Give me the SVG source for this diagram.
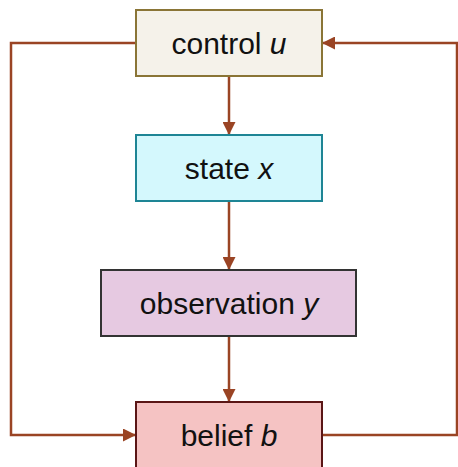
<svg xmlns="http://www.w3.org/2000/svg" width="458" height="467" viewBox="0 0 458 467">
  <style>
    .box { stroke-width: 2; }
    .lbl { font-family: "Liberation Sans", Arial, sans-serif; font-size: 30px; fill: #111; text-anchor: middle; }
    .var { font-style: italic; }
    .wire { fill: none; stroke: #9a4424; stroke-width: 2.5; }
  </style>
  <defs>
    <marker id="head" markerWidth="13" markerHeight="13" refX="12" refY="6.5" orient="auto" markerUnits="userSpaceOnUse">
      <path d="M0,0 L13,6.5 L0,13 Z" fill="#9a4424"/>
    </marker>
  </defs>

  <g id="connectors">
    <line class="wire" x1="229" y1="77" x2="229" y2="134" marker-end="url(#head)"/>
    <line class="wire" x1="229" y1="202" x2="229" y2="269" marker-end="url(#head)"/>
    <line class="wire" x1="229" y1="337" x2="229" y2="401" marker-end="url(#head)"/>
    <polyline class="wire" points="136,43 11,43 11,435 135,435" marker-end="url(#head)"/>
    <polyline class="wire" points="322,435 457,435 457,43 323,43" marker-end="url(#head)"/>
  </g>

  <g id="control">
    <rect class="box" x="136" y="10" width="186" height="66" fill="#f5f2ea" stroke="#8a7536"/>
    <text class="lbl" x="229" y="54">control <tspan class="var">u</tspan></text>
  </g>

  <g id="state">
    <rect class="box" x="136" y="135" width="186" height="66" fill="#d4f8fd" stroke="#1e8595"/>
    <text class="lbl" x="229" y="179">state <tspan class="var">x</tspan></text>
  </g>

  <g id="observation">
    <rect class="box" x="101" y="270" width="255" height="66" fill="#e6c9e1" stroke="#333"/>
    <text class="lbl" x="229" y="314">observation <tspan class="var">y</tspan></text>
  </g>

  <g id="belief">
    <rect class="box" x="136" y="402" width="186" height="66" fill="#f5c3c3" stroke="#5a1616"/>
    <text class="lbl" x="229" y="446">belief <tspan class="var">b</tspan></text>
  </g>
</svg>
